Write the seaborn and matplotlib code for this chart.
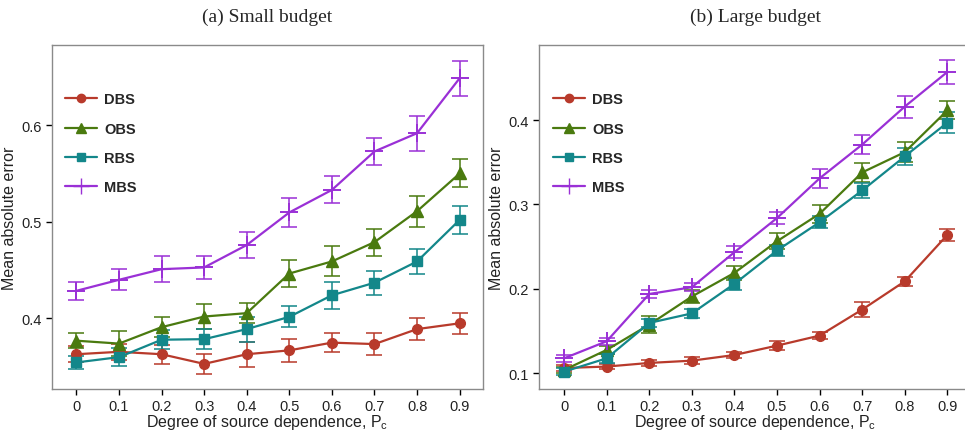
import numpy as np
import pandas as pd
import matplotlib
matplotlib.use("Agg")
import matplotlib.pyplot as plt
import seaborn as sns

## Data
pc = [0, 0.1, 0.2, 0.3, 0.4, 0.5, 0.6, 0.7, 0.8, 0.9]
pc_labels = ["0", "0.1", "0.2", "0.3", "0.4", "0.5", "0.6", "0.7", "0.8", "0.9"]
methods = ["DBS", "OBS", "RBS", "MBS"]

# (a) Small budget
small_dbs = [0.363, 0.3655, 0.363, 0.353, 0.363, 0.367, 0.375, 0.3735, 0.389, 0.395]
small_obs = [0.377, 0.374, 0.391, 0.402, 0.4055, 0.4465, 0.459, 0.479, 0.511, 0.550]
small_rbs = [0.3545, 0.360, 0.378, 0.3786, 0.389, 0.4017, 0.424, 0.437, 0.459, 0.502]
small_mbs = [0.4286, 0.440, 0.451, 0.4528, 0.476, 0.5097, 0.533, 0.5728, 0.5917, 0.6486]
small_dbs_err = [0.008, 0.008, 0.010, 0.010, 0.013, 0.012, 0.0095, 0.011, 0.011, 0.011]
small_obs_err = [0.008, 0.013, 0.0105, 0.013, 0.0105, 0.0135, 0.0155, 0.014, 0.016, 0.0145]
small_rbs_err = [0.007, 0.009, 0.010, 0.010, 0.013, 0.011, 0.014, 0.0125, 0.013, 0.0145]
small_mbs_err = [0.009, 0.011, 0.0135, 0.012, 0.013, 0.015, 0.014, 0.0136, 0.018, 0.018]

# (b) Large budget
large_dbs = [0.1063, 0.108, 0.1123, 0.115, 0.1217, 0.1328, 0.1447, 0.1755, 0.209, 0.264]
large_obs = [0.104, 0.1277, 0.1577, 0.191, 0.219, 0.2565, 0.289, 0.338, 0.362, 0.4115]
large_rbs = [0.102, 0.1178, 0.1597, 0.171, 0.206, 0.2455, 0.279, 0.3166, 0.357, 0.397]
large_mbs = [0.1178, 0.138, 0.194, 0.202, 0.2435, 0.284, 0.331, 0.371, 0.416, 0.457]
large_dbs_err = [0.003, 0.003, 0.004, 0.004, 0.004, 0.005, 0.004, 0.0085, 0.005, 0.0075]
large_obs_err = [0.004, 0.005, 0.010, 0.0075, 0.008, 0.0095, 0.0105, 0.0115, 0.012, 0.0105]
large_rbs_err = [0.004, 0.005, 0.005, 0.005, 0.007, 0.007, 0.007, 0.0085, 0.010, 0.012]
large_mbs_err = [0.004, 0.004, 0.005, 0.005, 0.007, 0.007, 0.011, 0.011, 0.013, 0.0145]

colors = {"DBS": "#b83a2b", "OBS": "#4a7a0f", "RBS": "#13878a", "MBS": "#9a30d6"}
markers = {"DBS": "o", "OBS": "^", "RBS": "s", "MBS": "+"}
msizes = {"DBS": 7, "OBS": 8, "RBS": 7, "MBS": 13}


def make_frame(vals, errs):
    rows = []
    for m, v, e in zip(methods, vals, errs):
        for x, y, d in zip(pc, v, e):
            rows.append({"pc": x, "mae": y, "err": d, "method": m})
    return pd.DataFrame(rows)


small_df = make_frame([small_dbs, small_obs, small_rbs, small_mbs],
                      [small_dbs_err, small_obs_err, small_rbs_err, small_mbs_err])
large_df = make_frame([large_dbs, large_obs, large_rbs, large_mbs],
                      [large_dbs_err, large_obs_err, large_rbs_err, large_mbs_err])

sns.set_style("ticks")
plt.rcParams["font.family"] = ["Liberation Sans", "DejaVu Sans"]

fig = plt.figure(figsize=(9.65, 4.35), dpi=100)
ax1 = fig.add_axes([0.0536, 0.1034, 0.447, 0.791])
ax2 = fig.add_axes([0.559, 0.1034, 0.447, 0.791])


def draw_panel(ax, df, title, ylim, yticks):
    handles = []
    for m in methods:
        sub = df[df["method"] == m]
        # error bars first so the lines sit on top
        ax.errorbar(sub["pc"], sub["mae"], yerr=sub["err"], fmt="none",
                    ecolor=colors[m], elinewidth=1.3, capsize=6, capthick=1.3,
                    alpha=0.85, zorder=2)
        sns.lineplot(data=sub, x="pc", y="mae", color=colors[m], marker=markers[m],
                     markersize=msizes[m], markeredgecolor=colors[m],
                     markeredgewidth=1.4 if m == "MBS" else 1.0,
                     linewidth=1.6, ax=ax, zorder=3)
        handles.append(plt.Line2D([], [], color=colors[m], marker=markers[m],
                                  markersize=msizes[m] - 1, linewidth=1.6,
                                  markeredgecolor=colors[m]))

    ax.legend(handles, methods, loc="upper left", bbox_to_anchor=(0.0, 0.9),
              frameon=False, labelspacing=1.05, handlelength=2.2,
              handletextpad=0.5, prop={"weight": "bold", "size": 10.5})

    ax.set_xlim(-0.058, 0.955)
    ax.set_ylim(*ylim)
    ax.set_xticks(pc)
    ax.set_xticklabels(pc_labels)
    ax.set_yticks(yticks)
    ax.set_yticklabels([f"{t:.1f}" for t in yticks])
    ax.tick_params(axis="both", labelsize=10.5, length=4, width=1, color="black",
                   labelcolor="#222222")
    for s in ax.spines.values():
        s.set_color("#8a8a8a")
        s.set_linewidth(1)
    ax.set_xlabel(r"Degree of source dependence, P$_\mathregular{c}$", fontsize=11.5,
                  labelpad=-1, color="#222222")
    ax.set_ylabel("Mean absolute error", fontsize=11.5, labelpad=3, color="#222222")
    ax.set_title(title, fontsize=14, family="Liberation Serif", pad=17)


draw_panel(ax1, small_df, "(a) Small budget", (0.327, 0.683), [0.4, 0.5, 0.6])
draw_panel(ax2, large_df, "(b) Large budget", (0.0814, 0.489), [0.1, 0.2, 0.3, 0.4])

fig.savefig("out.png", dpi=100)
